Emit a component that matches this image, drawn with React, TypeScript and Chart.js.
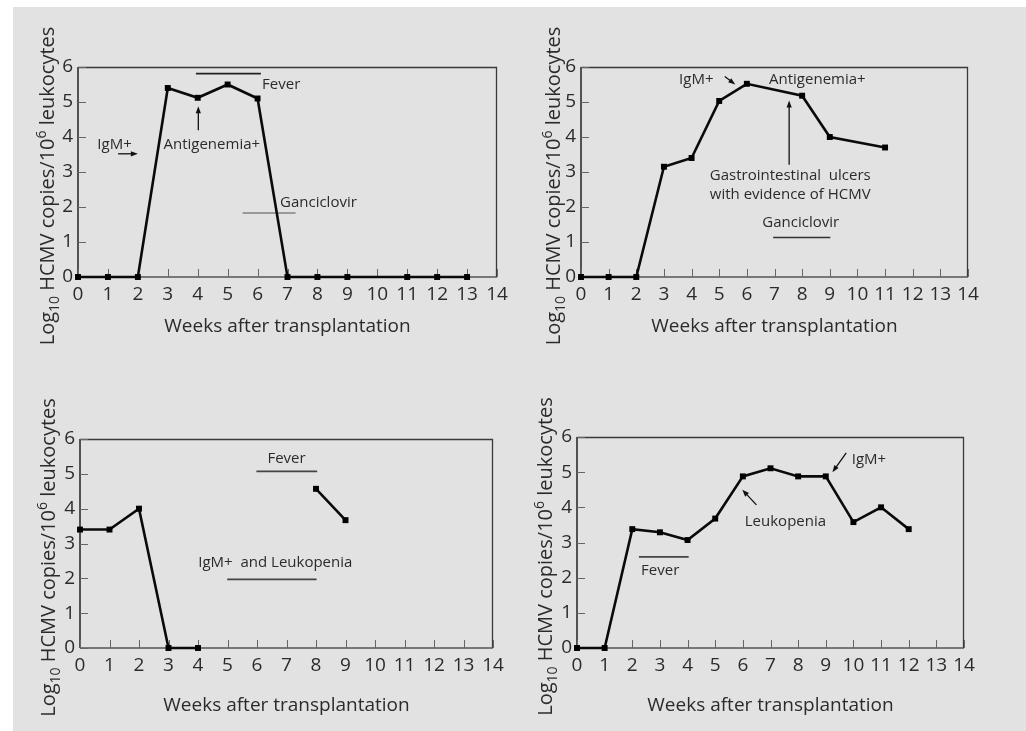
import React, { useEffect, useRef } from "react";
import { Chart, registerables } from "chart.js";

Chart.register(...registerables);

const FONT = "'Open Sans', 'DejaVu Sans', sans-serif";

// ---- axis ticks ----
const weekTicks = [0, 1, 2, 3, 4, 5, 6, 7, 8, 9, 10, 11, 12, 13, 14];
const logTicks = [0, 1, 2, 3, 4, 5, 6];

// ---- patient series ----
const weeksA = [0, 1, 2, 3, 4, 5, 6, 7, 8, 9, 11, 12, 13];
const logCopiesA = [0, 0, 0, 5.4, 5.12, 5.5, 5.1, 0, 0, 0, 0, 0, 0];

const weeksB = [0, 1, 2, 3, 4, 5, 6, 8, 9, 11];
const logCopiesB = [0, 0, 0, 3.15, 3.4, 5.03, 5.52, 5.18, 4.0, 3.7];

const weeksC = [0, 1, 2, 3, 4, 5, 6, 7, 8, 9];
const logCopiesC = [3.4, 3.4, 4.0, 0, 0, null, null, null, 4.57, 3.67];

const weeksD = [0, 1, 2, 3, 4, 5, 6, 7, 8, 9, 10, 11, 12];
const logCopiesD = [0, 0, 3.38, 3.29, 3.07, 3.68, 4.88, 5.11, 4.88, 4.88, 3.58, 4.0, 3.38];

type Ann =
  | { kind: "text"; x: number; y: number; text: string; align?: CanvasTextAlign }
  | { kind: "bar"; x1: number; x2: number; y: number; color?: string }
  | { kind: "arrow"; x1: number; y1: number; x2: number; y2: number };

const notesA: Ann[] = [
  { kind: "bar", x1: 3.94, x2: 6.11, y: 5.81, color: "#222" },
  { kind: "text", x: 6.15, y: 5.48, text: "Fever", align: "left" },
  { kind: "arrow", x1: 4.02, y1: 4.19, x2: 4.02, y2: 4.88 },
  { kind: "text", x: 4.47, y: 3.78, text: "Antigenemia+" },
  { kind: "text", x: 1.22, y: 3.78, text: "IgM+" },
  { kind: "arrow", x1: 1.34, y1: 3.52, x2: 2.0, y2: 3.52 },
  { kind: "text", x: 6.75, y: 2.13, text: "Ganciclovir", align: "left" },
  { kind: "bar", x1: 5.5, x2: 7.27, y: 1.83, color: "#808080" },
];

const notesB: Ann[] = [
  { kind: "text", x: 4.17, y: 5.64, text: "IgM+" },
  { kind: "arrow", x1: 5.2, y1: 5.73, x2: 5.58, y2: 5.5 },
  { kind: "text", x: 8.55, y: 5.64, text: "Antigenemia+" },
  { kind: "arrow", x1: 7.53, y1: 3.21, x2: 7.53, y2: 5.04 },
  { kind: "text", x: 4.66, y: 2.88, text: "Gastrointestinal  ulcers", align: "left" },
  { kind: "text", x: 4.66, y: 2.35, text: "with evidence of HCMV", align: "left" },
  { kind: "text", x: 7.95, y: 1.54, text: "Ganciclovir" },
  { kind: "bar", x1: 6.95, x2: 9.02, y: 1.13, color: "#333" },
];

const notesC: Ann[] = [
  { kind: "text", x: 7.0, y: 5.43, text: "Fever" },
  { kind: "bar", x1: 5.98, x2: 8.04, y: 5.07, color: "#444" },
  { kind: "text", x: 6.62, y: 2.44, text: "IgM+  and Leukopenia" },
  { kind: "bar", x1: 4.99, x2: 8.02, y: 1.97, color: "#444" },
];

const notesD: Ann[] = [
  { kind: "bar", x1: 2.24, x2: 4.04, y: 2.59, color: "#444" },
  { kind: "text", x: 3.01, y: 2.2, text: "Fever" },
  { kind: "arrow", x1: 6.49, y1: 4.07, x2: 5.98, y2: 4.5 },
  { kind: "text", x: 7.54, y: 3.6, text: "Leukopenia" },
  { kind: "arrow", x1: 9.74, y1: 5.55, x2: 9.24, y2: 5.0 },
  { kind: "text", x: 10.56, y: 5.34, text: "IgM+" },
];

interface Panel {
  left: number;
  top: number;
  width: number;
  height: number;
  area: { l: number; r: number; t: number; b: number };
  weeks: number[];
  values: (number | null)[];
  notes: Ann[];
  labelOffset: number;
  titleOffset: number;
}

const panels: Panel[] = [
  { left: 0, top: 0, width: 506, height: 360, area: { l: 65, r: 484, t: 60, b: 270 }, weeks: weeksA, values: logCopiesA, notes: notesA, labelOffset: 24, titleOffset: 50 },
  { left: 506, top: 0, width: 507, height: 360, area: { l: 62, r: 449, t: 60, b: 270 }, weeks: weeksB, values: logCopiesB, notes: notesB, labelOffset: 21, titleOffset: 50 },
  { left: 0, top: 360, width: 506, height: 364, area: { l: 67, r: 480, t: 72, b: 281 }, weeks: weeksC, values: logCopiesC, notes: notesC, labelOffset: 25, titleOffset: 58 },
  { left: 506, top: 360, width: 507, height: 364, area: { l: 58, r: 445, t: 70, b: 281 }, weeks: weeksD, values: logCopiesD, notes: notesD, labelOffset: 25, titleOffset: 58 },
];

function line(ctx: CanvasRenderingContext2D, x1: number, y1: number, x2: number, y2: number) {
  ctx.beginPath();
  ctx.moveTo(x1, y1);
  ctx.lineTo(x2, y2);
  ctx.stroke();
}

function makeDecor(p: Panel) {
  return {
    id: "decor",
    beforeDatasetsDraw(chart: any) {
      const { ctx, chartArea: a, scales } = chart;
      const xs = scales.x;
      const ys = scales.y;
      ctx.save();
      // frame top/right
      ctx.strokeStyle = "#3a3a3a";
      ctx.lineWidth = 1.3;
      ctx.beginPath();
      ctx.moveTo(a.left, a.top + 0.5);
      ctx.lineTo(a.right - 0.5, a.top + 0.5);
      ctx.lineTo(a.right - 0.5, a.bottom);
      ctx.stroke();
      // left axis
      ctx.strokeStyle = "#222";
      ctx.lineWidth = 1.5;
      line(ctx, a.left, a.top, a.left, a.bottom);
      // bottom axis
      ctx.strokeStyle = "#555";
      ctx.lineWidth = 1.6;
      line(ctx, a.left, a.bottom, a.right, a.bottom);
      // inward ticks
      ctx.strokeStyle = "#666";
      ctx.lineWidth = 1;
      xs.ticks.forEach((t: any) => {
        const px = Math.round(xs.getPixelForValue(t.value)) + 0.5;
        line(ctx, px, a.bottom, px, a.bottom - 8);
      });
      ys.ticks.forEach((t: any) => {
        const py = Math.round(ys.getPixelForValue(t.value)) + 0.5;
        line(ctx, a.left, py, a.left + 8, py);
      });
      // annotations
      ctx.font = `15px ${FONT}`;
      ctx.textBaseline = "middle";
      p.notes.forEach((n) => {
        if (n.kind === "text") {
          ctx.fillStyle = "#2b2b2b";
          ctx.textAlign = n.align || "center";
          ctx.fillText(n.text, xs.getPixelForValue(n.x), ys.getPixelForValue(n.y));
        } else if (n.kind === "bar") {
          ctx.strokeStyle = n.color || "#333";
          ctx.lineWidth = 1.6;
          const py = ys.getPixelForValue(n.y);
          line(ctx, xs.getPixelForValue(n.x1), py, xs.getPixelForValue(n.x2), py);
        } else {
          const x1 = xs.getPixelForValue(n.x1);
          const y1 = ys.getPixelForValue(n.y1);
          const x2 = xs.getPixelForValue(n.x2);
          const y2 = ys.getPixelForValue(n.y2);
          const ang = Math.atan2(y2 - y1, x2 - x1);
          const hl = 7;
          const hw = 2.6;
          ctx.strokeStyle = "#111";
          ctx.lineWidth = 1.3;
          line(ctx, x1, y1, x2 - Math.cos(ang) * (hl - 1), y2 - Math.sin(ang) * (hl - 1));
          ctx.fillStyle = "#111";
          ctx.beginPath();
          ctx.moveTo(x2, y2);
          ctx.lineTo(x2 - Math.cos(ang) * hl - Math.sin(ang) * hw, y2 - Math.sin(ang) * hl + Math.cos(ang) * hw);
          ctx.lineTo(x2 - Math.cos(ang) * hl + Math.sin(ang) * hw, y2 - Math.sin(ang) * hl - Math.cos(ang) * hw);
          ctx.closePath();
          ctx.fill();
        }
      });
      ctx.restore();
    },
    afterDraw(chart: any) {
      const { ctx, chartArea: a } = chart;
      ctx.save();
      ctx.fillStyle = "#2b2b2b";
      // x title
      ctx.font = `19px ${FONT}`;
      ctx.textAlign = "center";
      ctx.textBaseline = "middle";
      ctx.fillText("Weeks after transplantation", (a.left + a.right) / 2, a.bottom + p.titleOffset);
      // y title with sub/superscript
      const big = `20px ${FONT}`;
      const small = `14px ${FONT}`;
      const parts: { t: string; f: string; dy: number }[] = [
        { t: "Log", f: big, dy: 0 },
        { t: "10", f: small, dy: 5 },
        { t: " HCMV copies/10", f: big, dy: 0 },
        { t: "6", f: small, dy: -8 },
        { t: " leukocytes", f: big, dy: 0 },
      ];
      let total = 0;
      parts.forEach((pt) => {
        ctx.font = pt.f;
        total += ctx.measureText(pt.t).width;
      });
      const cy = (a.top + a.bottom) / 2 + 14;
      const bx = a.left - p.labelOffset;
      ctx.translate(bx, cy);
      ctx.rotate(-Math.PI / 2);
      ctx.textAlign = "left";
      ctx.textBaseline = "alphabetic";
      let cx = -total / 2;
      parts.forEach((pt) => {
        ctx.font = pt.f;
        ctx.fillText(pt.t, cx, pt.dy);
        cx += ctx.measureText(pt.t).width;
      });
      ctx.restore();
    },
  };
}

function PanelChart({ p }: { p: Panel }) {
  const ref = useRef<HTMLCanvasElement | null>(null);
  useEffect(() => {
    if (!ref.current) return;
    const pts = p.weeks.map((w, i) => ({ x: w, y: p.values[i] }));
    const chart = new Chart(ref.current, {
      type: "line",
      data: {
        datasets: [
          {
            data: pts as any,
            borderColor: "#0a0a0a",
            borderWidth: 2.6,
            backgroundColor: "#000",
            pointStyle: "rect",
            pointRadius: 4.2,
            pointBorderWidth: 0,
            pointBackgroundColor: "#000",
            spanGaps: false,
            tension: 0,
            clip: false as any,
          },
        ],
      },
      options: {
        animation: false,
        responsive: false,
        maintainAspectRatio: false,
        events: [],
        layout: { padding: { top: p.area.t, right: p.width - p.area.r, left: 0, bottom: 0 } },
        plugins: { legend: { display: false }, tooltip: { enabled: false }, title: { display: false } },
        scales: {
          x: {
            type: "linear",
            min: weekTicks[0],
            max: weekTicks[weekTicks.length - 1],
            afterBuildTicks: (s: any) => {
              s.ticks = weekTicks.map((v) => ({ value: v }));
            },
            afterFit: (s: any) => {
              s.height = p.height - p.area.b;
            },
            grid: { display: false, drawTicks: false },
            border: { display: false },
            ticks: { font: { family: FONT, size: 19 }, color: "#2b2b2b", padding: 6, maxRotation: 0, autoSkip: false },
          },
          y: {
            type: "linear",
            min: logTicks[0],
            max: logTicks[logTicks.length - 1],
            afterBuildTicks: (s: any) => {
              s.ticks = logTicks.map((v) => ({ value: v }));
            },
            afterFit: (s: any) => {
              s.width = p.area.l;
            },
            grid: { display: false, drawTicks: false },
            border: { display: false },
            ticks: { font: { family: FONT, size: 19 }, color: "#2b2b2b", padding: 5 },
          },
        },
      },
      plugins: [makeDecor(p)],
    });
    return () => chart.destroy();
  }, [p]);
  return (
    <canvas
      ref={ref}
      width={p.width}
      height={p.height}
      style={{ position: "absolute", left: p.left, top: p.top, width: p.width, height: p.height }}
    />
  );
}

export default function App() {
  return (
    <div style={{ position: "absolute", left: 13, top: 7, width: 1013, height: 724, background: "#e2e2e2", overflow: "hidden" }}>
      {panels.map((p, i) => (
        <PanelChart key={i} p={p} />
      ))}
    </div>
  );
}
